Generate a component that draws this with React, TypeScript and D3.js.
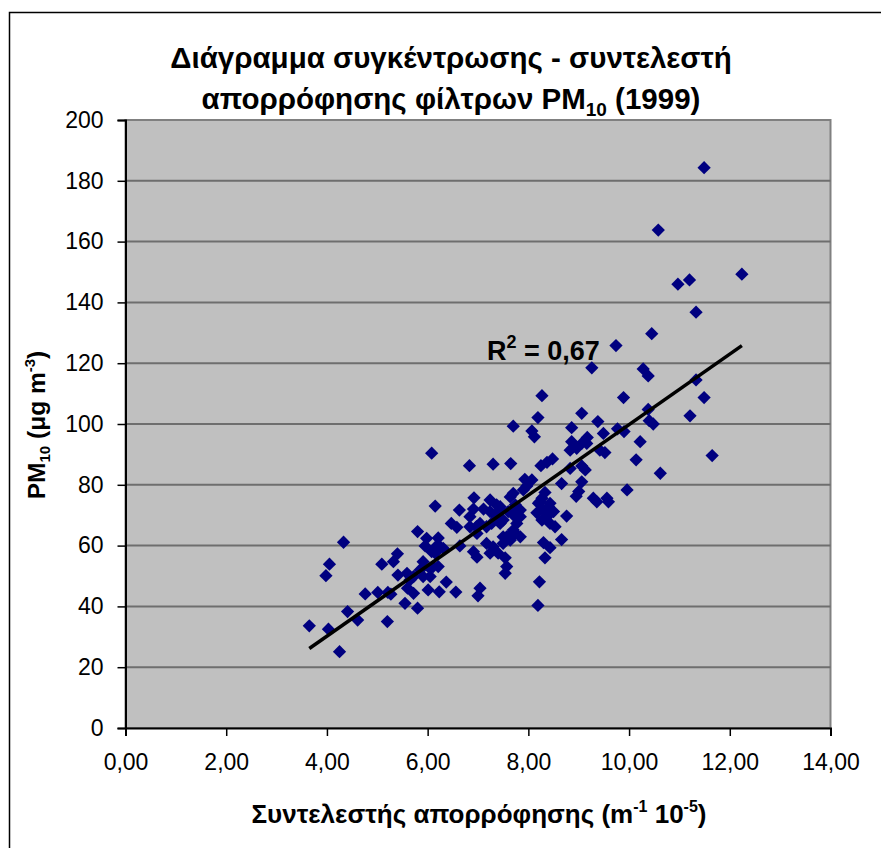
import React, { useEffect, useRef } from "react";
import * as d3 from "d3";

// absorption coefficient (m-1 10-5) vs PM10 (ug m-3), 1999
const ABS_COEF = [
  3.65, 3.98, 4.03, 4.05, 4.25, 4.33, 4.41, 4.61, 4.76, 5.01, 5.09, 5.2, 5.21, 5.27,
  5.32, 5.4, 5.41, 5.55, 5.6, 5.59, 5.65, 5.72, 5.72, 5.8, 5.8, 5.85, 5.91, 5.91,
  5.95, 5.98, 6.01, 6.05, 6.05, 6.08, 6.08, 6.11, 6.15, 6.15, 6.18, 6.21, 6.25,
  6.21, 6.23, 6.31, 6.37, 6.47, 6.56, 6.58, 6.63, 6.64, 6.83, 6.84, 6.84, 6.91,
  6.91, 6.92, 6.97, 6.98, 6.98, 7.0, 7.04, 7.04, 7.11, 7.17, 7.17, 7.24, 7.24,
  7.24, 7.27, 7.3, 7.3, 7.37, 7.37, 7.4, 7.44, 7.44, 7.44, 7.5, 7.5, 7.5, 7.54,
  7.54, 7.57, 7.57, 7.65, 7.6, 7.64, 7.64, 7.64, 7.7, 7.7, 7.7, 7.7, 7.7, 7.74,
  7.74, 7.77, 7.84, 7.84, 7.84, 7.9, 7.93, 7.97, 8.07, 8.07, 8.12, 8.17, 8.19,
  8.19, 8.2, 8.22, 8.23, 8.25, 8.27, 8.27, 8.27, 8.3, 8.3, 8.33, 8.33, 8.37, 8.37,
  8.4, 8.43, 8.43, 8.43, 8.48, 8.5, 8.53, 8.66, 8.66, 8.76, 8.83, 8.83, 8.86,
  8.86, 8.95, 8.96, 9.0, 9.06, 9.06, 9.06, 9.06, 9.13, 9.16, 9.17, 9.26, 9.29,
  9.36, 9.38, 9.42, 9.49, 9.52, 9.56, 9.59, 9.74, 9.77, 9.89, 9.9, 9.96, 10.14,
  10.22, 10.28, 10.38, 10.38, 10.4, 10.45, 10.48, 10.58, 10.62, 10.97, 11.2,
  11.21, 11.33, 11.33, 11.49, 11.49, 11.65, 12.24,
];
const PM10 = [
  33.6, 50.1, 32.5, 53.9, 25.1, 61.1, 38.3, 35.5, 44.1, 44.6, 53.9, 35, 44.6, 44,
  54.7, 57.3, 50.3, 41, 46, 50.9, 48.7, 44.3, 49.8, 39.4, 64.6, 52, 49.8, 54.7,
  59.9, 62.4, 45.4, 49.8, 52.5, 58, 90.4, 53.1, 57.5, 73, 59.9, 62.5, 59.6,
  53.1, 44.8, 59.1, 48, 67.3, 44.7, 66, 71.7, 59.9, 86.3, 69.5, 66.2, 72,
  58, 75.7, 66.2, 56.2, 64, 43.5, 46, 67.3, 72, 60.7, 66.2, 57.5, 71.2,
  75, 67.3, 59.6, 86.8, 73.4, 69.5, 57.5, 72.8, 71.7, 67.3, 62.9, 68.4, 60.7, 56,
  50.9, 53.1, 62.9, 87, 71.2, 76, 63.5, 61.8, 99.3, 77.2, 71.7, 70.1, 65.1, 73.4,
  64, 67.3, 71.7, 69.5, 62.9, 78.3, 81.8, 79.6, 81.6, 97.7, 95.8, 70.8, 102.1,
  40.3, 73.9, 48.1, 74.4, 86.3, 109.3, 75.6, 68.4, 71.7, 61, 77.5, 56, 87.4, 69.5,
  72.8, 73.9, 67.3, 59.3, 88.5, 71.2, 66.2, 80.4, 62, 69.7, 91.4, 85.4, 98.8,
  94.2, 76.2, 92, 77.8, 81, 86.2, 93.6, 103.5, 84.9, 93.6, 95.6, 118.5, 75.6,
  74.4, 100.8, 91.4, 96.9, 90.6, 75.6, 74.4, 125.8, 98.4, 108.7, 97.5, 78.3, 88.2,
  94.2, 118.1, 115.8, 104.8, 101.1, 129.7, 100, 163.8, 83.8, 146, 147.4,
  102.7, 136.8, 114.5, 184.3, 108.7, 89.6, 149.3,
];
const X_TICKS = [0, 2, 4, 6, 8, 10, 12, 14];
const Y_TICKS = [0, 20, 40, 60, 80, 100, 120, 140, 160, 180, 200];
const TREND_SLOPE = 11.6;
const TREND_INTERCEPT = -16.2;
const R2_LABEL = "0,67";

const WIDTH = 881;
const HEIGHT = 848;
const PLOT = { left: 125.5, top: 120, right: 830.5, bottom: 728 };
const FONT = "'Liberation Sans', Arial, sans-serif";
const MARKER = "#000080";

const X_SCALE = d3.scaleLinear().domain([0, 14]).range([PLOT.left, PLOT.right]);
const Y_SCALE = d3.scaleLinear().domain([0, 200]).range([PLOT.bottom, PLOT.top]);
const greek = d3.formatLocale({ decimal: ",", thousands: ".", grouping: [3], currency: ["", "€"] });
const fmtX = greek.format(".2f");

export default function App() {
  const ref = useRef<SVGSVGElement>(null);

  useEffect(() => {
    const svg = d3.select(ref.current);
    svg.selectAll("*").remove();

    svg.append("rect").attr("width", WIDTH).attr("height", HEIGHT).attr("fill", "white");
    // chart area border (runs off the right and bottom)
    svg
      .append("rect")
      .attr("x", 9.5)
      .attr("y", 12.5)
      .attr("width", 1000)
      .attr("height", 1000)
      .attr("fill", "none")
      .attr("stroke", "black")
      .attr("stroke-width", 1.5);

    // plot area
    svg
      .append("rect")
      .attr("x", PLOT.left)
      .attr("y", PLOT.top)
      .attr("width", PLOT.right - PLOT.left)
      .attr("height", PLOT.bottom - PLOT.top)
      .attr("fill", "#c0c0c0")
      .attr("stroke", "#808080")
      .attr("stroke-width", 2);

    // gridlines
    svg
      .append("g")
      .selectAll("line")
      .data(Y_TICKS.filter((t) => t > 0 && t < 200))
      .join("line")
      .attr("x1", PLOT.left)
      .attr("x2", PLOT.right)
      .attr("y1", (d) => Y_SCALE(d))
      .attr("y2", (d) => Y_SCALE(d))
      .attr("stroke", "#6e6e6e")
      .attr("stroke-width", 2);

    // axes
    const xAxis = d3.axisBottom(X_SCALE).tickValues(X_TICKS).tickSize(8).tickPadding(18).tickFormat((d) => fmtX(d as number));
    const yAxis = d3.axisLeft(Y_SCALE).tickValues(Y_TICKS).tickSize(8).tickPadding(14);
    const gx = svg.append("g").attr("transform", `translate(0,${PLOT.bottom})`).call(xAxis);
    const gy = svg.append("g").attr("transform", `translate(${PLOT.left},0)`).call(yAxis);
    for (const g of [gx, gy]) {
      g.select(".domain").attr("stroke", "black").attr("stroke-width", 2);
      g.selectAll(".tick line").attr("stroke", "black").attr("stroke-width", 1.5);
      g.selectAll(".tick text").attr("fill", "black").attr("font-family", FONT).attr("font-size", 23);
    }

    // points
    const points = ABS_COEF.map((x, i) => ({ x, y: PM10[i] }));
    const diamond = d3.symbol().type(d3.symbolSquare).size(88);
    svg
      .append("g")
      .selectAll("path")
      .data(points)
      .join("path")
      .attr("d", diamond)
      .attr("transform", (d) => `translate(${X_SCALE(d.x)},${Y_SCALE(d.y)}) rotate(45)`)
      .attr("fill", MARKER);

    // linear trendline across data range
    const [x0, x1] = d3.extent(ABS_COEF) as [number, number];
    const trend = d3
      .line<number>()
      .x((d) => X_SCALE(d))
      .y((d) => Y_SCALE(TREND_SLOPE * d + TREND_INTERCEPT));
    svg
      .append("path")
      .attr("d", trend([x0, x1]))
      .attr("stroke", "black")
      .attr("stroke-width", 3.5)
      .attr("fill", "none");

    const r2 = svg
      .append("text")
      .attr("x", 487)
      .attr("y", 360)
      .attr("font-family", FONT)
      .attr("font-weight", "bold")
      .attr("font-size", 27);
    r2.append("tspan").text("R");
    r2.append("tspan").attr("dy", -12).attr("font-size", 18).text("2");
    r2.append("tspan").attr("dy", 12).text(" = " + R2_LABEL);

    // title
    const title = svg
      .append("text")
      .attr("text-anchor", "middle")
      .attr("font-family", FONT)
      .attr("font-weight", "bold")
      .attr("font-size", 29.5);
    title.append("tspan").attr("x", 451).attr("y", 68).text("Διάγραμμα συγκέντρωσης - συντελεστή");
    const line2 = title.append("tspan").attr("x", 451).attr("y", 109);
    line2.append("tspan").text("απορρόφησης φίλτρων PM");
    line2.append("tspan").attr("dy", 7).attr("font-size", 19).text("10");
    line2.append("tspan").attr("dy", -7).text(" (1999)");

    // x axis title
    const xt = svg
      .append("text")
      .attr("x", 479)
      .attr("y", 823)
      .attr("text-anchor", "middle")
      .attr("font-family", FONT)
      .attr("font-weight", "bold")
      .attr("font-size", 26);
    xt.append("tspan").text("Συντελεστής απορρόφησης (m");
    xt.append("tspan").attr("dy", -11).attr("font-size", 16).text("-1");
    xt.append("tspan").attr("dy", 11).text(" 10");
    xt.append("tspan").attr("dy", -11).attr("font-size", 16).text("-5");
    xt.append("tspan").attr("dy", 11).text(")");

    // y axis title
    const yt = svg
      .append("text")
      .attr("transform", "translate(45,425) rotate(-90)")
      .attr("text-anchor", "middle")
      .attr("font-family", FONT)
      .attr("font-weight", "bold")
      .attr("font-size", 24.5);
    yt.append("tspan").text("PM");
    yt.append("tspan").attr("dy", 5).attr("font-size", 15).text("10");
    yt.append("tspan").attr("dy", -5).text(" (μg m");
    yt.append("tspan").attr("dy", -10).attr("font-size", 15).text("-3");
    yt.append("tspan").attr("dy", 10).text(")");
  }, []);

  return (
    <div style={{ position: "absolute", left: 0, top: 0 }}>
      <svg ref={ref} width={WIDTH} height={HEIGHT} style={{ display: "block" }} />
    </div>
  );
}
